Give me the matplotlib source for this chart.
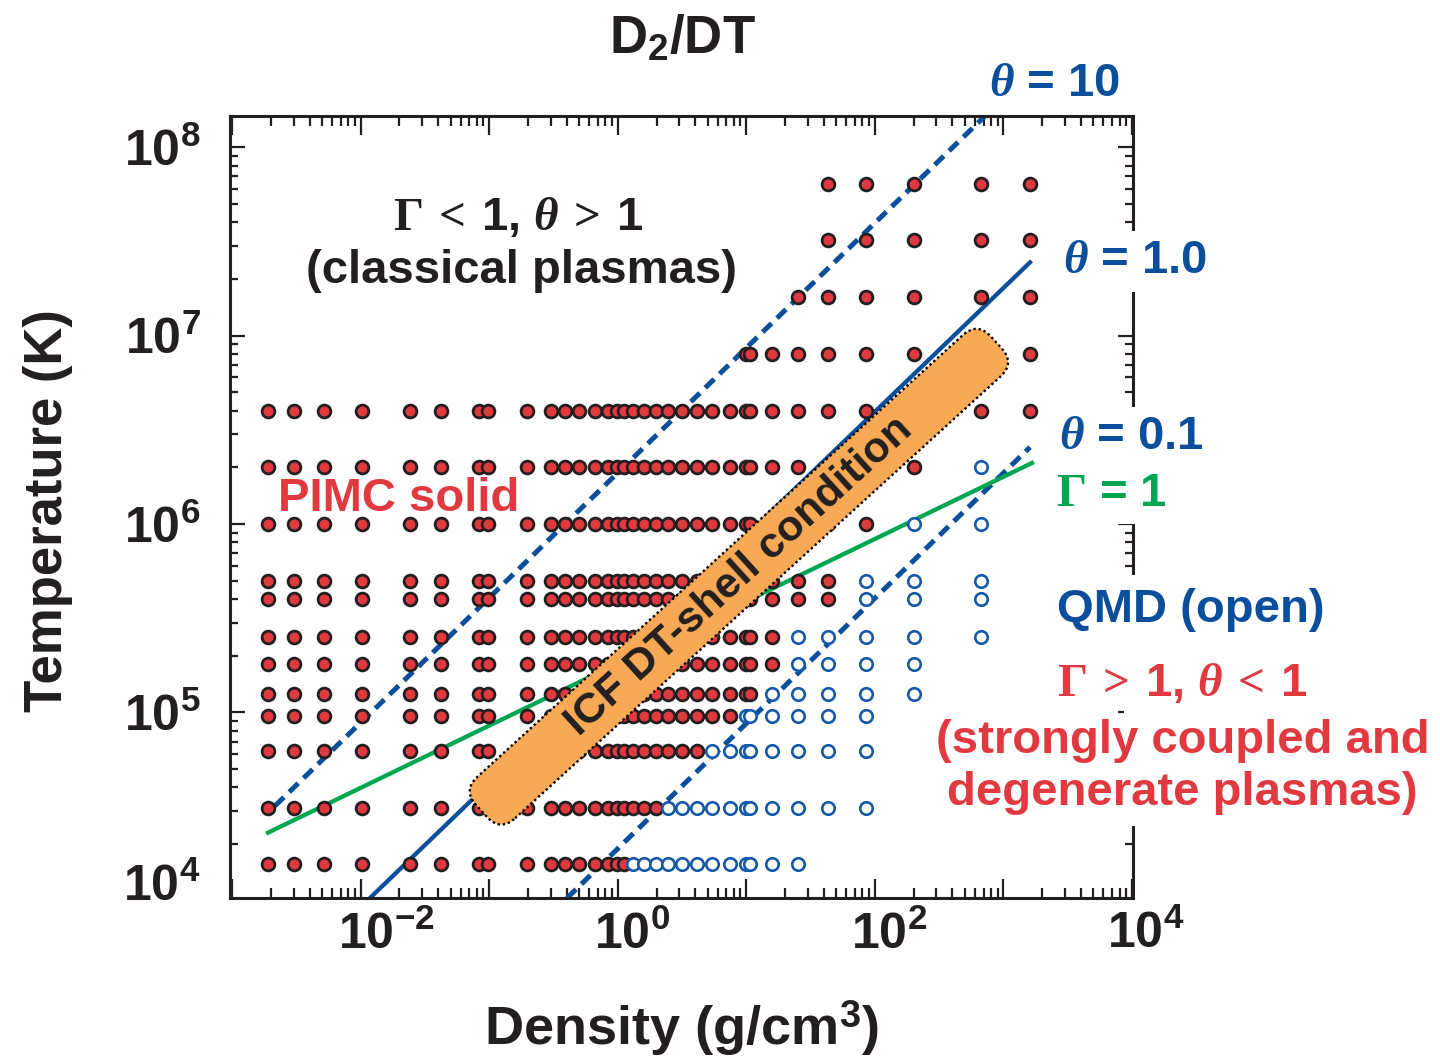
import numpy as np
import matplotlib

matplotlib.use("Agg")
import matplotlib.pyplot as plt
from matplotlib.patches import FancyBboxPatch, Rectangle
from matplotlib.transforms import Affine2D, ScaledTranslation
from matplotlib.ticker import LogLocator, NullFormatter

plt.rcParams["font.family"] = ["Liberation Sans", "DejaVu Sans"]
plt.rcParams["font.weight"] = "bold"
plt.rcParams["mathtext.fontset"] = "custom"
plt.rcParams["mathtext.rm"] = "Liberation Serif"
plt.rcParams["mathtext.it"] = "Liberation Serif:italic:bold"
plt.rcParams["mathtext.bf"] = "Liberation Sans:bold"

# density grid (g/cm^3) shared by all isotherms
rho = [0.0019, 0.003, 0.0052, 0.0103, 0.0242, 0.042, 0.083, 0.098, 0.197, 0.30,
       0.39, 0.50, 0.67, 0.84, 0.98, 1.11, 1.31, 1.60, 1.97, 2.47, 3.15, 4.11,
       5.39, 7.4, 10.0, 10.6, 15.9, 25.2, 43.5, 86.0, 200.0, 674.0, 1596.0]
# isotherms (K) and which grid points were done with PIMC (filled) / QMD (open)
temps = [15625, 31250, 62500, 95250, 125000, 181825, 250000, 400000, 500000,
         1.0e6, 2.0e6, 4.0e6, 8.0e6, 1.6e7, 3.2e7, 6.4e7]
pimc_lo = [0, 0, 0, 0, 0, 0, 0, 0, 0, 0, 0, 0, 24, 27, 28, 28]
pimc_hi = [15, 18, 21, 23, 25, 26, 26, 28, 28, 29, 30, 32, 32, 32, 32, 32]
qmd_hi = [27, 29, 29, 29, 30, 30, 31, 31, 31, 31, 31, 32, 32, 32, 32, 32]

# boundary lines (end points)
theta10_rho, theta10_T = [2.15e-3, 719.0], [3.19e4, 1.466e8]
theta1_rho, theta1_T = [0.0118, 1610.0], [1.035e4, 2.45e7]
theta01_rho, theta01_T = [0.403, 1610.0], [1.035e4, 2.56e6]
gamma1_rho, gamma1_T = [1.9e-3, 1667.0], [2.3e4, 2.11e6]
# ICF DT-shell band (end-edge mid points)
icf_rho, icf_T = [0.087, 880.0], [3.0e4, 9.2e6]

BLUE = "#0b4f9c"
RED = "#e03a40"
GREEN = "#00a651"
ORANGE = "#f7a955"
INK = "#231f20"

fig = plt.figure(figsize=(14.4, 10.59), dpi=100)
ax = fig.add_axes([230 / 1440, 1 - 898 / 1059, 903 / 1440, 782 / 1059])
ax.set_xscale("log")
ax.set_yscale("log")
ax.set_xlim(10 ** -3.017, 10 ** 4.008)
ax.set_ylim(10 ** 4.015, 10 ** 8.166)

# lines
dash = (0, (2.5, 1.5))
ax.plot(theta10_rho, theta10_T, color=BLUE, lw=3.6, ls=dash, zorder=2)
ax.plot(theta1_rho, theta1_T, color=BLUE, lw=3.1, zorder=2)
ax.plot(theta01_rho, theta01_T, color=BLUE, lw=3.6, ls=dash, zorder=2)
ax.plot(gamma1_rho, gamma1_T, color=GREEN, lw=3.1, zorder=2)

# simulation points
pr, pt, qr, qt = [], [], [], []
for T, lo, hi, qh in zip(temps, pimc_lo, pimc_hi, qmd_hi):
    pr += rho[lo:hi + 1]
    pt += [T] * (hi + 1 - lo)
    qr += rho[hi + 1:qh + 1]
    qt += [T] * max(qh - hi, 0)
ax.plot(pr, pt, "o", ms=9.2, mfc=RED, mec=INK, mew=2.0, zorder=3)
ax.plot(qr, qt, "o", ms=9.0, mfc="white", mec="#1659a8", mew=1.9, zorder=3)

# axes styling
for s in ax.spines.values():
    s.set_linewidth(2.2)
    s.set_color(INK)
ax.xaxis.set_minor_locator(LogLocator(base=10, subs=np.arange(2, 10), numticks=20))
ax.yaxis.set_minor_locator(LogLocator(base=10, subs=np.arange(2, 10), numticks=20))
ax.xaxis.set_minor_formatter(NullFormatter())
ax.yaxis.set_minor_formatter(NullFormatter())
ax.set_xticks([1e-3, 1e-2, 1e-1, 1, 1e1, 1e2, 1e3, 1e4],
              ["", r"$\mathbf{10^{-2}}$", "", r"$\mathbf{10^{0}}$", "",
               r"$\mathbf{10^{2}}$", "", r"$\mathbf{10^{4}}$"])
ax.set_yticks([1e5, 1e6, 1e7, 1e8],
              [r"$\mathbf{10^{5}}$", r"$\mathbf{10^{6}}$", r"$\mathbf{10^{7}}$", r"$\mathbf{10^{8}}$"])
ax.tick_params(which="both", direction="in", top=True, right=True, width=1.6, colors=INK,
               labelsize=36)
ax.tick_params(axis="x", which="major", length=14, pad=9)
ax.tick_params(axis="x", which="minor", length=7)
ax.tick_params(axis="y", which="major", length=11, pad=21)
ax.tick_params(axis="y", which="minor", length=6)
# centre the "10" of each label on its tick
for lab in ax.get_xticklabels():
    dx = 26 if "-" in lab.get_text() else 14
    lab.set_transform(lab.get_transform() + ScaledTranslation(dx / 100, 0, fig.dpi_scale_trans))
ax.text(-0.0332, 0.014, r"$\mathbf{10^{4}}$", transform=ax.transAxes, ha="right",
        va="center", fontsize=36, color=INK)

# ICF band, built in display space so it keeps its rounded shape
p1 = ax.transData.transform((icf_rho[0], icf_T[0]))
p2 = ax.transData.transform((icf_rho[1], icf_T[1]))
d = p2 - p1
length = np.hypot(*d)
ang = np.degrees(np.arctan2(d[1], d[0]))
width = 56
band = FancyBboxPatch((0, -width / 2), length, width,
                      boxstyle="round,pad=0,rounding_size=20",
                      transform=Affine2D().rotate_deg(ang).translate(*p1),
                      fc=ORANGE, ec="black", ls=(0, (1, 1.2)), lw=1.7, zorder=4)
ax.add_patch(band)
ax.text(np.sqrt(icf_rho[0] * icf_rho[1]), np.sqrt(icf_T[0] * icf_T[1]), "ICF DT-shell condition",
        rotation=ang, rotation_mode="anchor", ha="center", va="center",
        fontsize=31, color=INK, zorder=5)

# the right-hand text block hides that stretch of the frame
fig.add_artist(Rectangle((1124 / 1440, 1 - 826 / 1059), 18 / 1440, 251 / 1059,
                         transform=fig.transFigure, fc="white", ec="none", zorder=5))

# annotations
def label(x, y, s, color, size=34, pad=None, **kw):
    bb = dict(facecolor="white", edgecolor="none", pad=pad) if pad else None
    fig.text(x / 1440, 1 - y / 1059, s, color=color, fontsize=size, ha="center",
             va="center", bbox=bb, zorder=6, **kw)

label(682, 40, r"D$_{\mathbf{2}}$/DT", INK, size=38)
label(1055, 84, r"$\theta$ = 10", BLUE)
label(1135, 261, r"$\theta$ = 1.0", BLUE, pad=6)
label(1131, 437, r"$\theta$ = 0.1", BLUE, pad=6)
label(1111, 494, r"$\Gamma$ = 1", GREEN, pad=6)
label(1191, 610, "QMD (open)", BLUE)
label(1182, 684, r"$\Gamma\:>\:$1, $\theta\:<\:$1", RED)
label(1183, 741, "(strongly coupled and", RED)
label(1182, 793, "degenerate plasmas)", RED)
label(518, 218, r"$\Gamma\:<\:$1, $\theta\:>\:$1", INK)
label(521, 271, "(classical plasmas)", INK)
label(399, 499, "PIMC solid", RED)
label(682, 1028, r"Density (g/cm$^{\mathbf{3}}$)", INK, size=39)
label(48, 511, "Temperature (K)", INK, size=38, rotation=90)

fig.savefig("out.png", dpi=100)
